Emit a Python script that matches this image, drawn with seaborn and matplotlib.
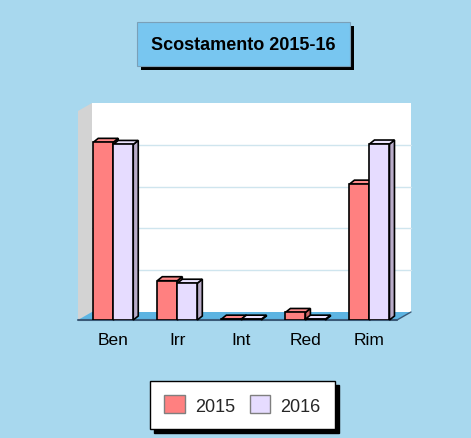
import numpy as np
import pandas as pd
import seaborn as sns
import matplotlib
matplotlib.use("Agg")
import matplotlib.pyplot as plt
from matplotlib.patches import Polygon, Rectangle, Patch
from matplotlib.lines import Line2D

# Data
categories = ["Ben", "Irr", "Int", "Red", "Rim"]
years = ["2015", "2016"]
values_2015 = [4.25, 0.94, 0.02, 0.18, 3.25]
values_2016 = [4.20, 0.88, 0.02, 0.02, 4.21]
title = "Scostamento 2015-16"

df = pd.DataFrame({
    "category": categories * 2,
    "year": [years[0]] * len(categories) + [years[1]] * len(categories),
    "value": values_2015 + values_2016,
})

# Styling
BG = "#a8d8ee"
face = {"2015": "#ff8080", "2016": "#e6dcff"}
side = {"2015": "#d06868", "2016": "#b9acc9"}
top = {"2015": "#ff8a8a", "2016": "#ece4ff"}
WALL_DX, WALL_DY = 14, 8     # depth of the plotting box, pixels
BAR_DX, BAR_DY = 5, 4        # depth of each bar, pixels

W, H, DPI = 471, 439, 100
sns.set_theme(style="white")
plt.rcParams["font.family"] = ["Liberation Sans", "DejaVu Sans"]

fig = plt.figure(figsize=(W / DPI, H / DPI), dpi=DPI)
fig.patch.set_facecolor(BG)

# front plane of the 3D box: x 78..397 px, floor at y=321 px, 5 units tall
XMIN, XMAX = -0.55, 4.43
ax = fig.add_axes([78 / W, (H - 321) / H, 319 / W, 209 / H])
ax.set_facecolor("none")

sns.barplot(data=df, x="category", y="value", hue="year", order=categories,
            hue_order=years, palette=face, saturation=1, width=0.625,
            edgecolor="black", linewidth=1.2, legend=False, ax=ax)
ax.set_xlim(XMIN, XMAX)
ax.set_ylim(0, 5)
ax.set_xlabel("")
ax.set_ylabel("")
ax.set_yticks([])
for s in ax.spines.values():
    s.set_visible(False)
ax.tick_params(axis="x", length=0, pad=9, labelsize=12.5, colors="black")


def shift(x, y, dx, dy):
    d = ax.transData.transform((x, y)) + np.array([dx, dy])
    return tuple(ax.transData.inverted().transform(d))


bars = list(ax.patches)

# walls and floor
x0, x1 = XMIN, XMAX
back = Polygon([shift(x0, 0, WALL_DX, WALL_DY), shift(x1, 0, WALL_DX, WALL_DY),
                shift(x1, 5, WALL_DX, WALL_DY), shift(x0, 5, WALL_DX, WALL_DY)],
               closed=True, facecolor="white", edgecolor="none", zorder=0.5,
               clip_on=False)
left = Polygon([(x0, 0), shift(x0, 0, WALL_DX, WALL_DY),
                shift(x0, 5, WALL_DX, WALL_DY), (x0, 5)],
               closed=True, facecolor="#d3d3d3", edgecolor="none", zorder=0.6,
               clip_on=False)
floor = Polygon([(x0, 0), (x1, 0), shift(x1, 0, WALL_DX, WALL_DY),
                 shift(x0, 0, WALL_DX, WALL_DY)],
                closed=True, facecolor="#5db4e2", edgecolor="none", zorder=0.7,
                clip_on=False)
for p in (back, left, floor):
    ax.add_patch(p)
ax.add_line(Line2D([x0, x1], [0, 0], color="#3a5a78", lw=1.5, zorder=0.8,
                   clip_on=False))
fr = shift(x1, 0, WALL_DX, WALL_DY)
ax.add_line(Line2D([x1, fr[0]], [0, fr[1]], color="#3a5a78", lw=1.0,
                   zorder=0.8, clip_on=False))

# gridlines on the back wall
for v in range(1, 5):
    a = shift(x0, v, WALL_DX, WALL_DY)
    b = shift(x1, v, WALL_DX, WALL_DY)
    ax.add_line(Line2D([a[0], b[0]], [a[1], b[1]], color="#cfe5ee", lw=1.0,
                       zorder=0.9, clip_on=False))

# 3D tops and sides of each bar
n = len(categories)
for i, bar in enumerate(bars):
    yr = years[i // n]
    z = 3 + i // n
    bar.set_zorder(z)
    bx0 = bar.get_x()
    bx1 = bx0 + bar.get_width()
    h = bar.get_height()
    top_poly = Polygon([(bx0, h), (bx1, h), shift(bx1, h, BAR_DX, BAR_DY),
                        shift(bx0, h, BAR_DX, BAR_DY)], closed=True,
                       facecolor=top[yr], edgecolor="black", lw=1.2,
                       zorder=z - 0.1, clip_on=False)
    side_poly = Polygon([(bx1, 0), shift(bx1, 0, BAR_DX, BAR_DY),
                         shift(bx1, h, BAR_DX, BAR_DY), (bx1, h)], closed=True,
                        facecolor=side[yr], edgecolor="black", lw=1.2,
                        zorder=z - 0.1, clip_on=False)
    ax.add_patch(side_poly)
    ax.add_patch(top_poly)

# title box with drop shadow
tx0, ty0, tw, th = 137, 23, 213, 44
fig.patches.append(Rectangle(((tx0 + 4) / W, 1 - (ty0 + th + 4) / H), tw / W, th / H,
                             transform=fig.transFigure, facecolor="black",
                             edgecolor="none", zorder=1))
fig.patches.append(Rectangle((tx0 / W, 1 - (ty0 + th) / H), tw / W, th / H,
                             transform=fig.transFigure, facecolor="#78c6f0",
                             edgecolor="#7aa0b8", lw=0.8, zorder=2))
fig.text((tx0 + tw / 2) / W, 1 - (ty0 + th / 2) / H, title, ha="center",
         va="center", fontsize=13, fontweight="bold", color="black", zorder=3)

# legend
handles = [Patch(facecolor=face[y], edgecolor="#7f7f7f", label=y) for y in years]
fig.legend(handles=handles, loc="center", bbox_to_anchor=(242.5 / W, 1 - 406 / H),
           ncol=2, fontsize=13, frameon=True, fancybox=False, framealpha=1,
           facecolor="white", edgecolor="black", handlelength=1.15,
           handleheight=1.15, handletextpad=0.55, columnspacing=0.8,
           borderpad=0.8,
           shadow={"ox": 3, "oy": -3, "facecolor": "black",
                   "edgecolor": "black", "alpha": 1})

fig.savefig("out.png", dpi=DPI, facecolor=BG)
